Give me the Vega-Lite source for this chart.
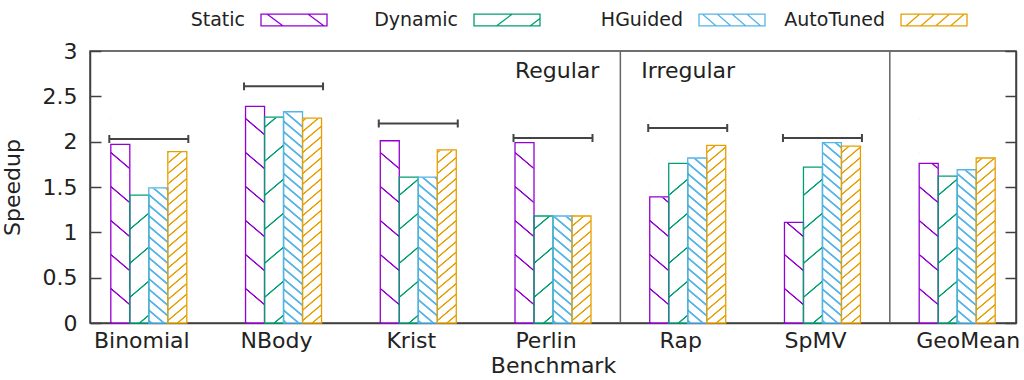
{
  "$schema": "https://vega.github.io/schema/vega-lite/v6.json",
  "width": 926,
  "height": 272,
  "autosize": {"type": "none"},
  "padding": {"left": 90, "top": 51, "right": 8, "bottom": 57},
  "background": "white",
  "config": {
    "font": "DejaVu Sans",
    "view": {"stroke": "#404040", "strokeWidth": 1.5},
    "axis": {"labelFontSize": 22, "titleFontSize": 22, "titleFontWeight": "normal", "labelColor": "#222", "titleColor": "#222", "domainColor": "#404040", "tickColor": "#404040", "grid": false, "zindex": 1},
    "legend": {
      "title": null, "orient": "none", "legendX": 170, "legendY": -65, "direction": "horizontal",
      "padding": 0, "columnPadding": 0, "symbolSize": 4356, "symbolStrokeWidth": 1.3, "symbolFillColor": "transparent", "symbolOpacity": 1,
      "labelFontSize": 19, "labelColor": "#222", "labelAlign": "right", "labelOffset": -83
    }
  },
  "datasets": {
    "speedups": [
      {"benchmark": "Binomial", "series": "Static", "speedup": 1.97},
      {"benchmark": "Binomial", "series": "Dynamic", "speedup": 1.41},
      {"benchmark": "Binomial", "series": "HGuided", "speedup": 1.49},
      {"benchmark": "Binomial", "series": "AutoTuned", "speedup": 1.89},
      {"benchmark": "NBody", "series": "Static", "speedup": 2.39},
      {"benchmark": "NBody", "series": "Dynamic", "speedup": 2.27},
      {"benchmark": "NBody", "series": "HGuided", "speedup": 2.33},
      {"benchmark": "NBody", "series": "AutoTuned", "speedup": 2.26},
      {"benchmark": "Krist", "series": "Static", "speedup": 2.01},
      {"benchmark": "Krist", "series": "Dynamic", "speedup": 1.61},
      {"benchmark": "Krist", "series": "HGuided", "speedup": 1.61},
      {"benchmark": "Krist", "series": "AutoTuned", "speedup": 1.91},
      {"benchmark": "Perlin", "series": "Static", "speedup": 1.99},
      {"benchmark": "Perlin", "series": "Dynamic", "speedup": 1.18},
      {"benchmark": "Perlin", "series": "HGuided", "speedup": 1.18},
      {"benchmark": "Perlin", "series": "AutoTuned", "speedup": 1.18},
      {"benchmark": "Rap", "series": "Static", "speedup": 1.39},
      {"benchmark": "Rap", "series": "Dynamic", "speedup": 1.76},
      {"benchmark": "Rap", "series": "HGuided", "speedup": 1.82},
      {"benchmark": "Rap", "series": "AutoTuned", "speedup": 1.96},
      {"benchmark": "SpMV", "series": "Static", "speedup": 1.11},
      {"benchmark": "SpMV", "series": "Dynamic", "speedup": 1.72},
      {"benchmark": "SpMV", "series": "HGuided", "speedup": 1.99},
      {"benchmark": "SpMV", "series": "AutoTuned", "speedup": 1.95},
      {"benchmark": "GeoMean", "series": "Static", "speedup": 1.76},
      {"benchmark": "GeoMean", "series": "Dynamic", "speedup": 1.62},
      {"benchmark": "GeoMean", "series": "HGuided", "speedup": 1.69},
      {"benchmark": "GeoMean", "series": "AutoTuned", "speedup": 1.82}
    ],
    "ideal": [
      {"benchmark": "Binomial", "ideal": 2.03},
      {"benchmark": "NBody", "ideal": 2.61},
      {"benchmark": "Krist", "ideal": 2.2},
      {"benchmark": "Perlin", "ideal": 2.04},
      {"benchmark": "Rap", "ideal": 2.15},
      {"benchmark": "SpMV", "ideal": 2.04}
    ],
    "boundaries": [
      {"benchmark": "Perlin"},
      {"benchmark": "SpMV"}
    ],
    "regions": [
      {"benchmark": "Perlin", "label": "Regular"},
      {"benchmark": "Perlin", "label": "Irregular"}
    ]
  },
  "data": {"name": "speedups"},
  "resolve": {"axis": {"y": "independent"}},
  "encoding": {
    "x": {
      "field": "benchmark",
      "type": "nominal",
      "title": "Benchmark",
      "scale": {"domain": ["Binomial", "NBody", "Krist", "Perlin", "Rap", "SpMV", "GeoMean"], "paddingInner": 0.436, "paddingOuter": 0.1545},
      "axis": {
        "labelAngle": 0, "ticks": false, "labelPadding": 7, "titlePadding": 4, "domainWidth": 1.5,
        "labelOffset": {"condition": {"test": "datum.value === 'GeoMean'", "value": 11}, "value": -7}
      }
    }
  },
  "layer": [
    {
      "transform": [{"filter": "datum.series === 'Static'"}],
      "mark": {
        "type": "bar",
        "strokeWidth": 0,
        "fill": {
          "gradient": "linear", "x1": 0, "y1": 0, "x2": -0.148, "y2": 2,
          "stops": [
            {"offset": 0.027, "color": "#ffffff"}, {"offset": 0.0288, "color": "#9400d3"}, {"offset": 0.0312, "color": "#9400d3"}, {"offset": 0.033, "color": "#ffffff"},
            {"offset": 0.1047, "color": "#ffffff"}, {"offset": 0.1065, "color": "#9400d3"}, {"offset": 0.1089, "color": "#9400d3"}, {"offset": 0.1107, "color": "#ffffff"},
            {"offset": 0.1824, "color": "#ffffff"}, {"offset": 0.1842, "color": "#9400d3"}, {"offset": 0.1866, "color": "#9400d3"}, {"offset": 0.1884, "color": "#ffffff"},
            {"offset": 0.2601, "color": "#ffffff"}, {"offset": 0.2619, "color": "#9400d3"}, {"offset": 0.2643, "color": "#9400d3"}, {"offset": 0.2661, "color": "#ffffff"},
            {"offset": 0.3378, "color": "#ffffff"}, {"offset": 0.3396, "color": "#9400d3"}, {"offset": 0.342, "color": "#9400d3"}, {"offset": 0.3438, "color": "#ffffff"},
            {"offset": 0.4155, "color": "#ffffff"}, {"offset": 0.4173, "color": "#9400d3"}, {"offset": 0.4197, "color": "#9400d3"}, {"offset": 0.4215, "color": "#ffffff"},
            {"offset": 0.4932, "color": "#ffffff"}, {"offset": 0.495, "color": "#9400d3"}, {"offset": 0.4974, "color": "#9400d3"}, {"offset": 0.4992, "color": "#ffffff"}
          ]
        }
      },
      "encoding": {
        "xOffset": {"field": "series", "scale": {"domain": ["Static", "Dynamic", "HGuided", "AutoTuned"], "paddingInner": 0, "paddingOuter": 0}},
        "y": {"datum": 2.4, "type": "quantitative", "scale": {"domain": [0, 3], "nice": false}, "axis": null},
        "y2": {"datum": 0}
      }
    },
    {
      "transform": [{"filter": "datum.series === 'Dynamic'"}],
      "mark": {
        "type": "bar",
        "strokeWidth": 0,
        "fill": {
          "gradient": "linear", "x1": 0, "y1": 0, "x2": 0.148, "y2": 2,
          "stops": [
            {"offset": 0.047, "color": "#ffffff"}, {"offset": 0.0488, "color": "#009e73"}, {"offset": 0.0512, "color": "#009e73"}, {"offset": 0.053, "color": "#ffffff"},
            {"offset": 0.1247, "color": "#ffffff"}, {"offset": 0.1265, "color": "#009e73"}, {"offset": 0.1289, "color": "#009e73"}, {"offset": 0.1307, "color": "#ffffff"},
            {"offset": 0.2024, "color": "#ffffff"}, {"offset": 0.2042, "color": "#009e73"}, {"offset": 0.2066, "color": "#009e73"}, {"offset": 0.2084, "color": "#ffffff"},
            {"offset": 0.2801, "color": "#ffffff"}, {"offset": 0.2819, "color": "#009e73"}, {"offset": 0.2843, "color": "#009e73"}, {"offset": 0.2861, "color": "#ffffff"},
            {"offset": 0.3578, "color": "#ffffff"}, {"offset": 0.3596, "color": "#009e73"}, {"offset": 0.362, "color": "#009e73"}, {"offset": 0.3638, "color": "#ffffff"},
            {"offset": 0.4355, "color": "#ffffff"}, {"offset": 0.4373, "color": "#009e73"}, {"offset": 0.4397, "color": "#009e73"}, {"offset": 0.4415, "color": "#ffffff"},
            {"offset": 0.5132, "color": "#ffffff"}, {"offset": 0.515, "color": "#009e73"}, {"offset": 0.5174, "color": "#009e73"}, {"offset": 0.5192, "color": "#ffffff"}
          ]
        }
      },
      "encoding": {
        "xOffset": {"field": "series", "scale": {"domain": ["Static", "Dynamic", "HGuided", "AutoTuned"], "paddingInner": 0, "paddingOuter": 0}},
        "y": {"datum": 2.4, "type": "quantitative", "scale": {"domain": [0, 3], "nice": false}, "axis": null},
        "y2": {"datum": 0}
      }
    },
    {
      "transform": [{"filter": "datum.series === 'HGuided'"}],
      "mark": {
        "type": "bar",
        "strokeWidth": 0,
        "fill": {
          "gradient": "linear", "x1": 0, "y1": 0, "x2": -0.148, "y2": 2,
          "stops": [
            {"offset": 0.0082, "color": "#ffffff"}, {"offset": 0.0104, "color": "#56b4e9"}, {"offset": 0.0136, "color": "#56b4e9"}, {"offset": 0.0158, "color": "#ffffff"},
            {"offset": 0.0322, "color": "#ffffff"}, {"offset": 0.0344, "color": "#56b4e9"}, {"offset": 0.0376, "color": "#56b4e9"}, {"offset": 0.0398, "color": "#ffffff"},
            {"offset": 0.0562, "color": "#ffffff"}, {"offset": 0.0584, "color": "#56b4e9"}, {"offset": 0.0616, "color": "#56b4e9"}, {"offset": 0.0638, "color": "#ffffff"},
            {"offset": 0.0802, "color": "#ffffff"}, {"offset": 0.0824, "color": "#56b4e9"}, {"offset": 0.0856, "color": "#56b4e9"}, {"offset": 0.0878, "color": "#ffffff"},
            {"offset": 0.1042, "color": "#ffffff"}, {"offset": 0.1064, "color": "#56b4e9"}, {"offset": 0.1096, "color": "#56b4e9"}, {"offset": 0.1118, "color": "#ffffff"},
            {"offset": 0.1282, "color": "#ffffff"}, {"offset": 0.1304, "color": "#56b4e9"}, {"offset": 0.1336, "color": "#56b4e9"}, {"offset": 0.1358, "color": "#ffffff"},
            {"offset": 0.1522, "color": "#ffffff"}, {"offset": 0.1544, "color": "#56b4e9"}, {"offset": 0.1576, "color": "#56b4e9"}, {"offset": 0.1598, "color": "#ffffff"},
            {"offset": 0.1762, "color": "#ffffff"}, {"offset": 0.1784, "color": "#56b4e9"}, {"offset": 0.1816, "color": "#56b4e9"}, {"offset": 0.1838, "color": "#ffffff"},
            {"offset": 0.2002, "color": "#ffffff"}, {"offset": 0.2024, "color": "#56b4e9"}, {"offset": 0.2056, "color": "#56b4e9"}, {"offset": 0.2078, "color": "#ffffff"},
            {"offset": 0.2242, "color": "#ffffff"}, {"offset": 0.2264, "color": "#56b4e9"}, {"offset": 0.2296, "color": "#56b4e9"}, {"offset": 0.2318, "color": "#ffffff"},
            {"offset": 0.2482, "color": "#ffffff"}, {"offset": 0.2504, "color": "#56b4e9"}, {"offset": 0.2536, "color": "#56b4e9"}, {"offset": 0.2558, "color": "#ffffff"},
            {"offset": 0.2722, "color": "#ffffff"}, {"offset": 0.2744, "color": "#56b4e9"}, {"offset": 0.2776, "color": "#56b4e9"}, {"offset": 0.2798, "color": "#ffffff"},
            {"offset": 0.2962, "color": "#ffffff"}, {"offset": 0.2984, "color": "#56b4e9"}, {"offset": 0.3016, "color": "#56b4e9"}, {"offset": 0.3038, "color": "#ffffff"},
            {"offset": 0.3202, "color": "#ffffff"}, {"offset": 0.3224, "color": "#56b4e9"}, {"offset": 0.3256, "color": "#56b4e9"}, {"offset": 0.3278, "color": "#ffffff"},
            {"offset": 0.3442, "color": "#ffffff"}, {"offset": 0.3464, "color": "#56b4e9"}, {"offset": 0.3496, "color": "#56b4e9"}, {"offset": 0.3518, "color": "#ffffff"},
            {"offset": 0.3682, "color": "#ffffff"}, {"offset": 0.3704, "color": "#56b4e9"}, {"offset": 0.3736, "color": "#56b4e9"}, {"offset": 0.3758, "color": "#ffffff"},
            {"offset": 0.3922, "color": "#ffffff"}, {"offset": 0.3944, "color": "#56b4e9"}, {"offset": 0.3976, "color": "#56b4e9"}, {"offset": 0.3998, "color": "#ffffff"},
            {"offset": 0.4162, "color": "#ffffff"}, {"offset": 0.4184, "color": "#56b4e9"}, {"offset": 0.4216, "color": "#56b4e9"}, {"offset": 0.4238, "color": "#ffffff"},
            {"offset": 0.4402, "color": "#ffffff"}, {"offset": 0.4424, "color": "#56b4e9"}, {"offset": 0.4456, "color": "#56b4e9"}, {"offset": 0.4478, "color": "#ffffff"},
            {"offset": 0.4642, "color": "#ffffff"}, {"offset": 0.4664, "color": "#56b4e9"}, {"offset": 0.4696, "color": "#56b4e9"}, {"offset": 0.4718, "color": "#ffffff"},
            {"offset": 0.4882, "color": "#ffffff"}, {"offset": 0.4904, "color": "#56b4e9"}, {"offset": 0.4936, "color": "#56b4e9"}, {"offset": 0.4958, "color": "#ffffff"}
          ]
        }
      },
      "encoding": {
        "xOffset": {"field": "series", "scale": {"domain": ["Static", "Dynamic", "HGuided", "AutoTuned"], "paddingInner": 0, "paddingOuter": 0}},
        "y": {"datum": 2.4, "type": "quantitative", "scale": {"domain": [0, 3], "nice": false}, "axis": null},
        "y2": {"datum": 0}
      }
    },
    {
      "transform": [{"filter": "datum.series === 'AutoTuned'"}],
      "mark": {
        "type": "bar",
        "strokeWidth": 0,
        "fill": {
          "gradient": "linear", "x1": 0, "y1": 0, "x2": 0.148, "y2": 2,
          "stops": [
            {"offset": 0.009, "color": "#ffffff"}, {"offset": 0.0108, "color": "#e69f00"}, {"offset": 0.0132, "color": "#e69f00"}, {"offset": 0.015, "color": "#ffffff"},
            {"offset": 0.033, "color": "#ffffff"}, {"offset": 0.0348, "color": "#e69f00"}, {"offset": 0.0372, "color": "#e69f00"}, {"offset": 0.039, "color": "#ffffff"},
            {"offset": 0.057, "color": "#ffffff"}, {"offset": 0.0588, "color": "#e69f00"}, {"offset": 0.0612, "color": "#e69f00"}, {"offset": 0.063, "color": "#ffffff"},
            {"offset": 0.081, "color": "#ffffff"}, {"offset": 0.0828, "color": "#e69f00"}, {"offset": 0.0852, "color": "#e69f00"}, {"offset": 0.087, "color": "#ffffff"},
            {"offset": 0.105, "color": "#ffffff"}, {"offset": 0.1068, "color": "#e69f00"}, {"offset": 0.1092, "color": "#e69f00"}, {"offset": 0.111, "color": "#ffffff"},
            {"offset": 0.129, "color": "#ffffff"}, {"offset": 0.1308, "color": "#e69f00"}, {"offset": 0.1332, "color": "#e69f00"}, {"offset": 0.135, "color": "#ffffff"},
            {"offset": 0.153, "color": "#ffffff"}, {"offset": 0.1548, "color": "#e69f00"}, {"offset": 0.1572, "color": "#e69f00"}, {"offset": 0.159, "color": "#ffffff"},
            {"offset": 0.177, "color": "#ffffff"}, {"offset": 0.1788, "color": "#e69f00"}, {"offset": 0.1812, "color": "#e69f00"}, {"offset": 0.183, "color": "#ffffff"},
            {"offset": 0.201, "color": "#ffffff"}, {"offset": 0.2028, "color": "#e69f00"}, {"offset": 0.2052, "color": "#e69f00"}, {"offset": 0.207, "color": "#ffffff"},
            {"offset": 0.225, "color": "#ffffff"}, {"offset": 0.2268, "color": "#e69f00"}, {"offset": 0.2292, "color": "#e69f00"}, {"offset": 0.231, "color": "#ffffff"},
            {"offset": 0.249, "color": "#ffffff"}, {"offset": 0.2508, "color": "#e69f00"}, {"offset": 0.2532, "color": "#e69f00"}, {"offset": 0.255, "color": "#ffffff"},
            {"offset": 0.273, "color": "#ffffff"}, {"offset": 0.2748, "color": "#e69f00"}, {"offset": 0.2772, "color": "#e69f00"}, {"offset": 0.279, "color": "#ffffff"},
            {"offset": 0.297, "color": "#ffffff"}, {"offset": 0.2988, "color": "#e69f00"}, {"offset": 0.3012, "color": "#e69f00"}, {"offset": 0.303, "color": "#ffffff"},
            {"offset": 0.321, "color": "#ffffff"}, {"offset": 0.3228, "color": "#e69f00"}, {"offset": 0.3252, "color": "#e69f00"}, {"offset": 0.327, "color": "#ffffff"},
            {"offset": 0.345, "color": "#ffffff"}, {"offset": 0.3468, "color": "#e69f00"}, {"offset": 0.3492, "color": "#e69f00"}, {"offset": 0.351, "color": "#ffffff"},
            {"offset": 0.369, "color": "#ffffff"}, {"offset": 0.3708, "color": "#e69f00"}, {"offset": 0.3732, "color": "#e69f00"}, {"offset": 0.375, "color": "#ffffff"},
            {"offset": 0.393, "color": "#ffffff"}, {"offset": 0.3948, "color": "#e69f00"}, {"offset": 0.3972, "color": "#e69f00"}, {"offset": 0.399, "color": "#ffffff"},
            {"offset": 0.417, "color": "#ffffff"}, {"offset": 0.4188, "color": "#e69f00"}, {"offset": 0.4212, "color": "#e69f00"}, {"offset": 0.423, "color": "#ffffff"},
            {"offset": 0.441, "color": "#ffffff"}, {"offset": 0.4428, "color": "#e69f00"}, {"offset": 0.4452, "color": "#e69f00"}, {"offset": 0.447, "color": "#ffffff"},
            {"offset": 0.465, "color": "#ffffff"}, {"offset": 0.4668, "color": "#e69f00"}, {"offset": 0.4692, "color": "#e69f00"}, {"offset": 0.471, "color": "#ffffff"},
            {"offset": 0.489, "color": "#ffffff"}, {"offset": 0.4908, "color": "#e69f00"}, {"offset": 0.4932, "color": "#e69f00"}, {"offset": 0.495, "color": "#ffffff"},
            {"offset": 0.513, "color": "#ffffff"}, {"offset": 0.5148, "color": "#e69f00"}, {"offset": 0.5172, "color": "#e69f00"}, {"offset": 0.519, "color": "#ffffff"}
          ]
        }
      },
      "encoding": {
        "xOffset": {"field": "series", "scale": {"domain": ["Static", "Dynamic", "HGuided", "AutoTuned"], "paddingInner": 0, "paddingOuter": 0}},
        "y": {"datum": 2.4, "type": "quantitative", "scale": {"domain": [0, 3], "nice": false}, "axis": null},
        "y2": {"datum": 0}
      }
    },
    {
      "mark": {"type": "bar", "fill": "white", "stroke": "white", "strokeWidth": 1},
      "encoding": {
        "xOffset": {"field": "series", "scale": {"domain": ["Static", "Dynamic", "HGuided", "AutoTuned"], "paddingInner": 0, "paddingOuter": 0}},
        "y": {"field": "speedup", "type": "quantitative", "stack": null, "scale": {"domain": [0, 3], "nice": false}, "axis": null},
        "y2": {"datum": 2.45}
      }
    },
    {
      "mark": {"type": "bar", "fill": "transparent", "strokeWidth": 1.3},
      "encoding": {
        "xOffset": {"field": "series", "scale": {"domain": ["Static", "Dynamic", "HGuided", "AutoTuned"], "paddingInner": 0, "paddingOuter": 0}},
        "y": {
          "field": "speedup", "type": "quantitative", "stack": null,
          "scale": {"domain": [0, 3], "nice": false},
          "axis": {"title": "Speedup", "values": [0, 0.5, 1, 1.5, 2, 2.5, 3], "format": "~g", "tickSize": -11, "tickWidth": 1.5, "labelPadding": 24, "domainWidth": 1.5, "titlePadding": 18}
        },
        "stroke": {
          "field": "series", "type": "nominal",
          "scale": {"domain": ["Static", "Dynamic", "HGuided", "AutoTuned"], "range": ["#9400d3", "#009e73", "#56b4e9", "#e69f00"]}
        }
      }
    },
    {
      "mark": {"type": "point", "filled": false, "opacity": 0, "strokeWidth": 1.3, "size": 4356},
      "encoding": {
        "y": {"field": "speedup", "type": "quantitative", "scale": {"domain": [0, 3], "nice": false}, "axis": null},
        "stroke": {
          "field": "series", "type": "nominal",
          "scale": {"domain": ["Static", "Dynamic", "HGuided", "AutoTuned"], "range": ["#9400d3", "#009e73", "#56b4e9", "#e69f00"]}
        },
        "shape": {
          "field": "series", "type": "nominal",
          "scale": {
            "domain": ["Static", "Dynamic", "HGuided", "AutoTuned"],
            "range": [
              "M-1,-0.18H1V0.18H-1Z M-0.82,-0.18L-0.33,0.18 M0.42,-0.18L0.91,0.18 M2.32,0",
              "M-1,-0.18H1V0.18H-1Z M-0.32,0.18L0.16,-0.18 M0.7,0.18L1,-0.045 M2.73,0",
              "M-1,-0.18H1V0.18H-1Z M-0.9,-0.18L-0.48,0.18 M-0.45,-0.18L-0.03,0.18 M0,-0.18L0.42,0.18 M0.45,-0.18L0.87,0.18 M1.49,0",
              "M-1,-0.18H1V0.18H-1Z M-0.85,0.18L-0.43,-0.18 M-0.4,0.18L0.02,-0.18 M0.05,0.18L0.47,-0.18 M0.5,0.18L0.92,-0.18"
            ]
          }
        }
      }
    },
    {
      "data": {"name": "ideal"},
      "mark": {"type": "point", "shape": "M-1,-0.1L-1,0.1M-1,0L1,0M1,-0.1L1,0.1", "size": 6241, "filled": false, "color": "#444444", "strokeWidth": 2, "opacity": 1},
      "encoding": {
        "y": {
          "field": "ideal", "type": "quantitative",
          "scale": {"domain": [0, 3], "nice": false},
          "axis": {"orient": "right", "title": null, "values": [0, 0.5, 1, 1.5, 2, 2.5, 3], "labels": false, "tickSize": -11, "tickWidth": 1.5, "domainWidth": 1.5}
        }
      }
    },
    {
      "data": {"name": "boundaries"},
      "mark": {"type": "rule", "color": "#666666", "strokeWidth": 1.5},
      "encoding": {
        "x": {"field": "benchmark", "type": "nominal", "bandPosition": 1.3864}
      }
    },
    {
      "data": {"name": "regions"},
      "transform": [{"filter": "datum.label === 'Regular'"}],
      "mark": {"type": "text", "align": "right", "baseline": "alphabetic", "dx": -21, "fontSize": 22, "color": "#222"},
      "encoding": {
        "x": {"field": "benchmark", "type": "nominal", "bandPosition": 1.3864},
        "y": {"datum": 2.7, "type": "quantitative", "scale": {"domain": [0, 3], "nice": false}, "axis": null},
        "text": {"field": "label"}
      }
    },
    {
      "data": {"name": "regions"},
      "transform": [{"filter": "datum.label === 'Irregular'"}],
      "mark": {"type": "text", "align": "left", "baseline": "alphabetic", "dx": 21, "fontSize": 22, "color": "#222"},
      "encoding": {
        "x": {"field": "benchmark", "type": "nominal", "bandPosition": 1.3864},
        "y": {"datum": 2.7, "type": "quantitative", "scale": {"domain": [0, 3], "nice": false}, "axis": null},
        "text": {"field": "label"}
      }
    }
  ]
}
